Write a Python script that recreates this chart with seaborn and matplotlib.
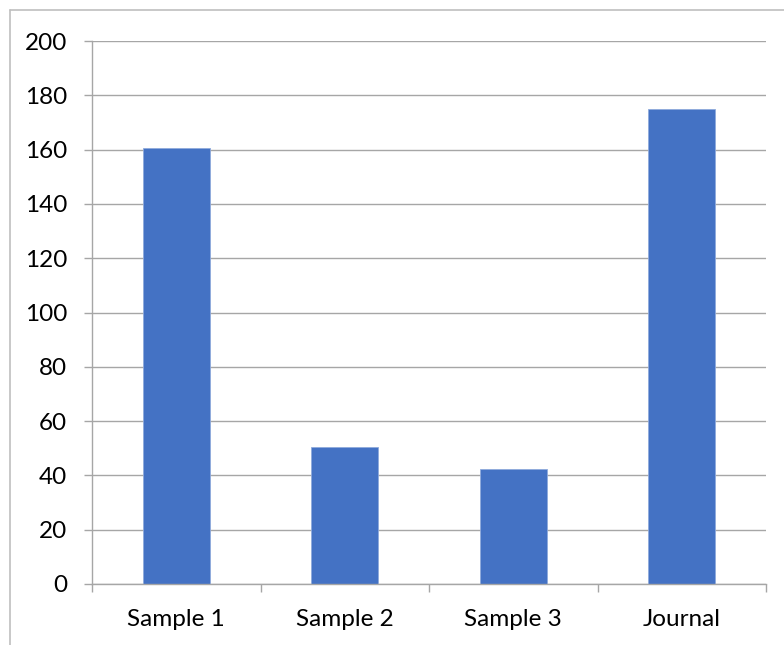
import matplotlib
matplotlib.use("Agg")
import matplotlib.pyplot as plt
import seaborn as sns
import pandas as pd
from matplotlib.lines import Line2D

# data
categories = ["Sample 1", "Sample 2", "Sample 3", "Journal"]
values = [160.5, 50.5, 42.3, 175.0]
y_ticks = [0, 20, 40, 60, 80, 100, 120, 140, 160, 180, 200]

sns.set_theme(style="white")
plt.rcParams['font.family'] = ['Lato', 'DejaVu Sans']

df = pd.DataFrame({"group": categories, "value": values})

fig = plt.figure(figsize=(7.84, 6.45), dpi=100)
ax = fig.add_axes([92 / 784, 1 - 584 / 645, (766 - 92) / 784, (584 - 41) / 645])

sns.barplot(data=df, x="group", y="value", color="#4472C4", width=0.4,
            saturation=1, ax=ax, edgecolor="#8FAADC", linewidth=0.6)

grid_col = "#A6A6A6"
ax.set_ylim(0, 200)
ax.set_xlim(-0.5, 3.5)
ax.set_yticks(y_ticks)
ax.yaxis.grid(True, color=grid_col, linewidth=1.0)
ax.set_axisbelow(True)
ax.set_xlabel("")
ax.set_ylabel("")

for s in ["top", "right"]:
    ax.spines[s].set_visible(False)
for s in ["left", "bottom"]:
    ax.spines[s].set_color(grid_col)
    ax.spines[s].set_linewidth(1.0)

ax.tick_params(axis="y", left=True, length=6, width=1.0, color=grid_col,
               labelsize=17.5, pad=12, labelcolor="black")
ax.set_xticks([-0.5, 0.5, 1.5, 2.5, 3.5], minor=True)
ax.tick_params(axis="x", which="major", length=0, labelsize=17.5, pad=18,
               labelcolor="black")
ax.tick_params(axis="x", which="minor", bottom=True, length=6, width=1.0,
               color=grid_col)

# chart area border (left and top edges only visible)
border = "#BFBFBF"
fig.add_artist(Line2D([10 / 784, 10 / 784], [0, 1 - 10 / 645],
                      transform=fig.transFigure, color=border, linewidth=1.2))
fig.add_artist(Line2D([10 / 784, 1], [1 - 10 / 645, 1 - 10 / 645],
                      transform=fig.transFigure, color=border, linewidth=1.2))

plt.savefig("out.png", dpi=100)
